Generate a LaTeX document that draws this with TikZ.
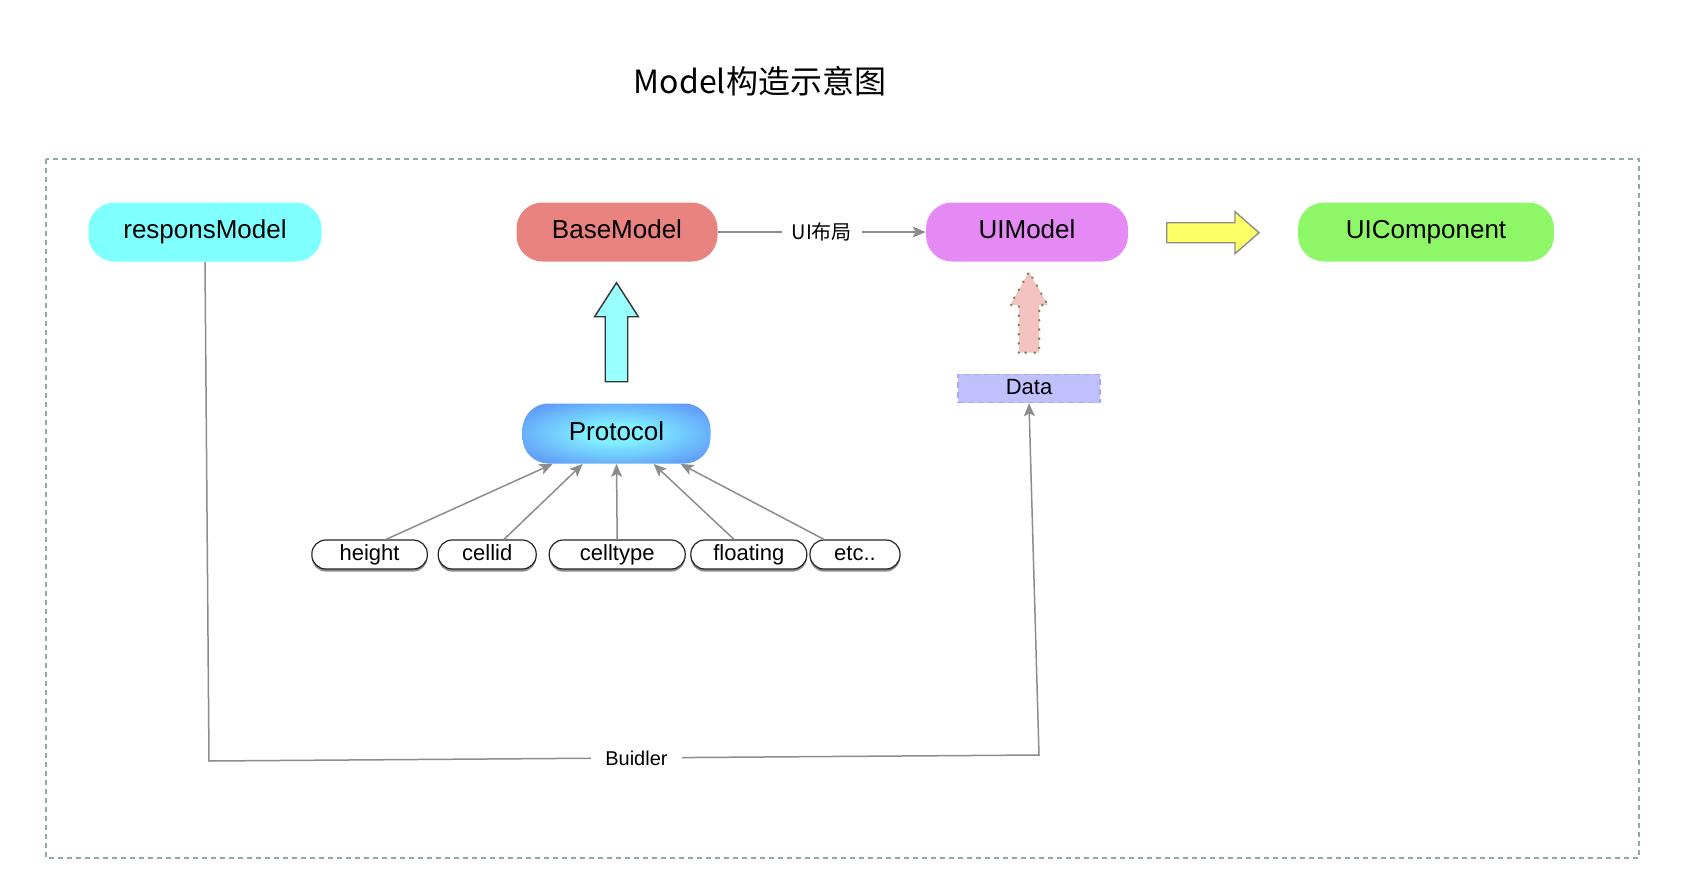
\documentclass[tikz,border=0pt]{standalone}
\usepackage{fontspec}
\setmainfont{Liberation Sans}
\newfontfamily\cjk{Noto Sans CJK SC}
\usepackage{xcolor}
\usepackage{tikz}
\usetikzlibrary{shapes.geometric, arrows.meta, shadows}
\definecolor{respcyan}{HTML}{80FFFF}
\definecolor{basered}{HTML}{E8837F}
\definecolor{uiviolet}{HTML}{E589F5}
\definecolor{compgreen}{HTML}{8DF767}
\definecolor{protolight}{HTML}{80EEFF}
\definecolor{protoblue}{HTML}{5580F7}
\definecolor{datablue}{HTML}{C0C0FF}
\definecolor{databorder}{HTML}{A8A8F2}
\definecolor{linkgray}{HTML}{8C8C8C}
\definecolor{framegray}{HTML}{8FAAAA}
\definecolor{arrowcyan}{HTML}{99FFFF}
\definecolor{arrowpink}{HTML}{F4C2BF}
\definecolor{arrowyellow}{HTML}{FFFF66}
\definecolor{dotgreen}{HTML}{6E8B5B}
\pgfdeclareradialshading{protoshade}{\pgfpoint{0bp}{0bp}}{color(0bp)=(protolight); color(8bp)=(protolight); color(38bp)=(protoblue); color(50bp)=(protoblue)}
\tikzstyle{model} = [rectangle, rounded corners=13pt, minimum width=100.5pt, minimum height=29.5pt, text centered, text height=9.4pt, text depth=2.6pt, font=\fontsize{13}{15}\selectfont]
\tikzstyle{field} = [rectangle, rounded corners=7pt, minimum height=14.5pt, inner sep=0pt, text height=8pt, text depth=2.2pt, draw=black!85, line width=0.6pt, fill=white, font=\fontsize{11}{13}\selectfont, drop shadow={shadow xshift=0pt, shadow yshift=-1.3pt, fill=black!45, opacity=1}]
\tikzstyle{link} = [linkgray, line width=0.75pt, -{Stealth[length=6.5pt, width=5.5pt, inset=1.5pt]}]
\tikzstyle{frame} = [framegray, line width=0.6pt, dash pattern=on 2.5pt off 2pt]
\tikzstyle{blockarrow} = [line width=0.7pt, line join=miter]
\begin{document}
\begin{tikzpicture}[x=0.5pt, y=-0.5pt]
\useasboundingbox (0,0) rectangle (1692,884);

\node (title) at (760,81) {\cjk\fontsize{16}{19}\selectfont Model构造示意图};
\draw [frame] (46,159) rectangle (1639,858);

\node (respons) [model, minimum width=116.5pt, fill=respcyan] at (205,232) {responsModel};
\node (base) [model, fill=basered] at (617,232) {BaseModel};
\node (uimodel) [model, minimum width=101pt, fill=uiviolet] at (1027,232) {UIModel};
\node (uicomp) [model, minimum width=128pt, fill=compgreen] at (1426,232) {UIComponent};
\node (protocol) [model, minimum width=94pt, minimum height=30pt, shading=protoshade] at (616.5,433.5) {Protocol};
\node (data) [rectangle, minimum width=71pt, minimum height=14.2pt, inner sep=0pt, text height=8pt, text depth=2.2pt, fill=datablue, draw=databorder, line width=0.6pt, dash pattern=on 3pt off 2pt, font=\fontsize{11}{13}\selectfont] at (1029,388.5) {Data};

\node (height) [field, minimum width=57.75pt] at (369.6,554.5) {height};
\node (cellid) [field, minimum width=49pt] at (487.2,554.5) {cellid};
\node (celltype) [field, minimum width=68pt] at (617.2,554.5) {celltype};
\node (floating) [field, minimum width=58pt] at (748.8,554.5) {floating};
\node (etc) [field, minimum width=45pt] at (855,554.5) {etc..};

\draw [blockarrow, draw=black!80, fill=arrowcyan] (605.25,381.7) -- (605.25,316.7) -- (594.6,316.7) -- (616.5,282.7) -- (638.4,316.7) -- (627.75,316.7) -- (627.75,381.7) -- cycle;
\draw [blockarrow, draw=dotgreen, line width=1.3pt, line cap=round, dash pattern=on 0.1pt off 4.5pt, fill=arrowpink] (1018.8,352.7) -- (1018.8,305) -- (1010.25,305) -- (1029,271.7) -- (1047.75,305) -- (1039.2,305) -- (1039.2,352.7) -- cycle;
\draw [blockarrow, draw=black!45, fill=arrowyellow] (1166.7,222.7) -- (1235,222.7) -- (1235,211.7) -- (1259,232.7) -- (1235,253.7) -- (1235,242.7) -- (1166.7,242.7) -- cycle;

\draw [link] (base) -- node[fill=white, inner xsep=5pt, text=black, font=\cjk\fontsize{10}{12}\selectfont] {UI布局} (uimodel);
\draw [link] ([xshift=8.25pt]height.north) -- ([xshift=-31.9pt]protocol.south);
\draw [link] ([xshift=8.4pt]cellid.north) -- ([xshift=-16.9pt]protocol.south);
\draw [link] (celltype.north) -- (protocol.south);
\draw [link] ([xshift=-7.4pt]floating.north) -- ([xshift=18.5pt]protocol.south);
\draw [link] ([xshift=-15.5pt]etc.north) -- ([xshift=32pt]protocol.south);

\coordinate (bleft) at (209,761);
\coordinate (bright) at (1039,755);
\draw [link] (respons.south) -- (bleft) -- node[pos=0.515, fill=white, inner xsep=7pt, inner ysep=2pt, text=black, font=\fontsize{10}{12}\selectfont] {Buidler} (bright) -- (data.south);

\end{tikzpicture}
\end{document}
